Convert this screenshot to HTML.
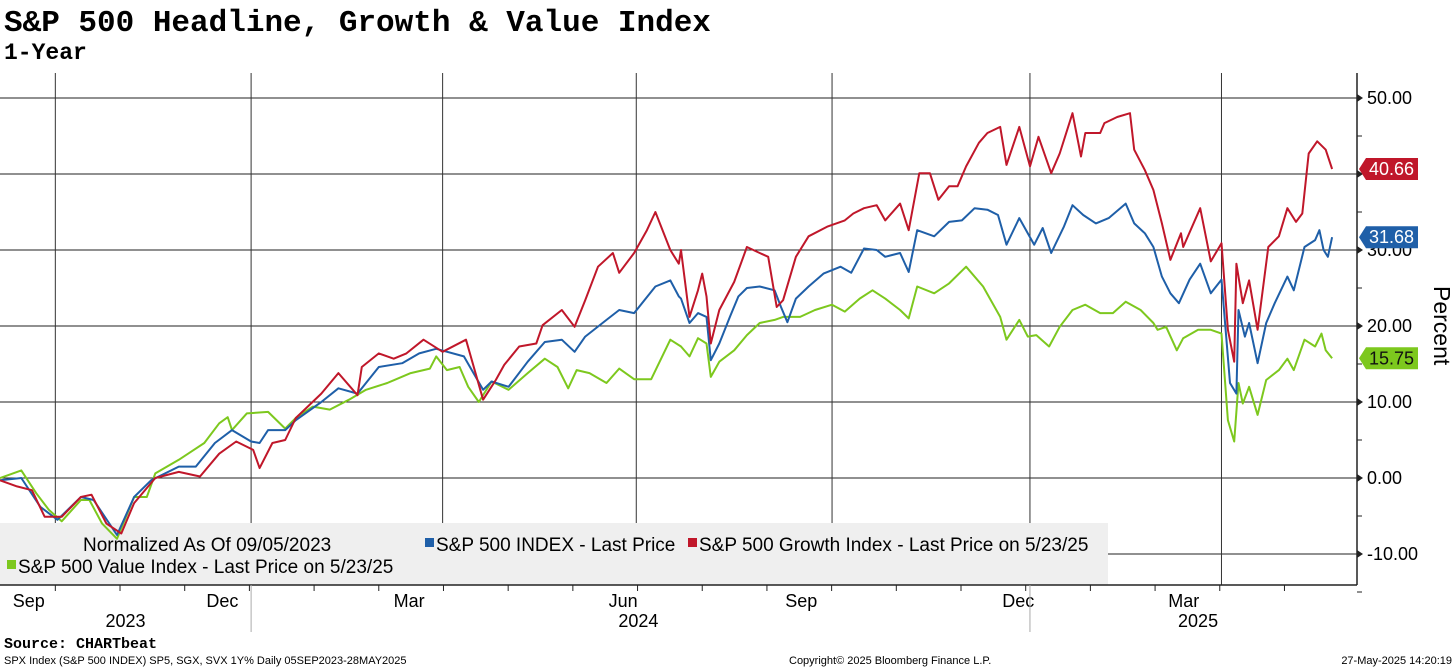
<!DOCTYPE html>
<html><head><meta charset="utf-8"><style>
body{margin:0;width:1456px;height:668px;background:#fff;overflow:hidden;font-family:"Liberation Sans Narrow","Liberation Sans",sans-serif}
svg{position:absolute;left:0;top:0}
</style></head><body>
<svg id="c" width="1456" height="668">
<text x="4" y="31" font-family="Liberation Mono, monospace" font-weight="bold" font-size="31">S&amp;P 500 Headline, Growth &amp; Value Index</text>
<text x="4" y="59" font-family="Liberation Mono, monospace" font-weight="bold" font-size="23">1-Year</text>
<g id="grid"></g>
<rect x="0" y="523" width="1108" height="62" fill="#efefef"/>
<g id="series"></g>
<g id="axes"></g>
<g font-size="19" font-family="Liberation Sans Narrow, Liberation Sans, sans-serif">
<text x="83" y="551">Normalized As Of 09/05/2023</text>
<rect x="425" y="538" width="9" height="9" fill="#1f5fa8"/>
<text x="436" y="551">S&amp;P 500 INDEX - Last Price</text>
<rect x="688" y="538" width="9" height="9" fill="#c0172a"/>
<text x="699" y="551">S&amp;P 500 Growth Index - Last Price on 5/23/25</text>
<rect x="7" y="560" width="9" height="9" fill="#7dc81e"/>
<text x="18" y="573">S&amp;P 500 Value Index - Last Price on 5/23/25</text>
</g>
<text transform="translate(1434,286) rotate(90)" font-size="23">Percent</text>
<text x="4" y="648" font-family="Liberation Mono, monospace" font-weight="bold" font-size="15">Source: CHARTbeat</text>
<text x="4" y="664" font-size="11">SPX Index (S&amp;P 500 INDEX) SP5, SGX, SVX 1Y%  Daily 05SEP2023-28MAY2025</text>
<text x="789" y="664" font-size="11">Copyright© 2025 Bloomberg Finance L.P.</text>
<text x="1452" y="664" font-size="11" text-anchor="end">27-May-2025 14:20:19</text>
</svg>
<script>
const yTicks=[50,40,30,20,10,0,-10];
const monthGridDays=[26,118,208,299,391,484,574];
const monthLabels=["Sep","Dec","Mar","Jun","Sep","Dec","Mar"];
const monthLabelDays=[6,97,185,286,369,471,549];
const yearLabels=["2023","2024","2025"];
const yearLabelDays=[59,300,563];
const yearSepDays=[118,484];
const greenDays=[0,10,17,23,29,38,42,48,55,63,69,73,84,90,96,103,107,109,116,126,134,139,147,155,164,172,182,193,202,205,210,216,220,225,231,239,248,256,262,267,271,277,285,291,298,306,315,320,324,328,332,334,338,345,351,357,364,368,376,383,391,397,404,410,416,423,427,431,439,446,454,462,470,473,479,483,487,493,498,504,510,517,523,529,536,542,544,548,553,556,563,569,574,577,580,582,584,587,591,595,601,605,608,613,618,621,623,626];
const greenValues=[0,1,-2,-4.2,-5.7,-2.9,-2.9,-6,-8,-2.5,-2.5,0.6,2.4,3.5,4.6,7.2,8,6.3,8.5,8.7,6.5,7.9,9.4,9,10.3,11.6,12.5,13.8,14.4,16,14.2,14.6,12,10,12.7,11.6,13.8,15.7,14.6,11.8,14.2,13.8,12.5,14.4,13,13,18.2,17.3,16,18.4,17.7,13.3,15.3,16.8,18.8,20.4,20.8,21.2,21.2,22.1,22.8,21.9,23.6,24.7,23.6,22.1,21,25.2,24.3,25.6,27.8,25.2,21.2,18.2,20.8,18.6,18.8,17.3,19.9,22.1,22.8,21.7,21.7,23.2,22.1,20.4,19.5,19.9,16.8,18.4,19.5,19.5,19,7.6,4.8,12.5,9.8,12,8.3,12.9,14.2,15.7,14.2,18.2,17.3,19,16.8,15.75];
const blueDays=[0,10,19,27,38,44,55,63,71,84,92,101,109,118,122,126,134,139,151,159,168,178,189,197,205,218,227,231,239,248,256,264,270,275,285,291,298,308,315,319,320,324,328,332,334,338,343,347,351,357,364,367,370,374,380,387,395,400,406,412,416,423,427,431,439,446,452,458,464,469,473,479,486,490,494,500,504,509,515,521,529,533,538,542,546,550,554,559,564,569,574,578,581,582,585,587,591,595,599,605,608,613,618,620,622,624,626];
const blueValues=[-0.3,0,-3.8,-5.5,-2.5,-2.9,-7.5,-2.5,-0.3,1.5,1.5,4.6,6.3,4.8,4.6,6.3,6.3,7.6,10,11.8,11.1,14.6,15.1,16.4,17,16,11.6,12.7,12,15.3,17.9,18.2,16.6,18.6,20.8,22.1,21.7,25.2,26,23.9,23.6,20.4,21.7,21.2,15.5,17.7,21.2,23.9,25,25.2,24.7,22.5,20.5,23.6,25.2,26.9,27.8,27,30.2,30,29.1,29.6,27.1,32.6,31.8,33.7,33.9,35.5,35.3,34.6,30.7,34.2,30.7,32.9,29.6,33.1,35.9,34.6,33.5,34.2,36.1,33.5,32.2,30.4,26.5,24.3,23,26.1,28.2,24.3,26.1,12.5,11.1,22.1,18.6,20.4,15.1,20.4,23,26.5,24.7,30.4,31.3,32.6,30,29.1,31.68];
const redDays=[0,8,15,21,29,38,43,50,57,63,73,84,94,103,111,119,122,128,134,139,151,159,168,170,178,185,191,199,208,219,227,233,237,244,252,255,264,270,275,281,288,291,298,304,308,315,319,320,324,328,330,332,334,338,345,351,357,361,365,368,374,380,389,397,401,406,412,416,423,427,432,437,441,446,450,454,460,464,470,473,479,484,488,494,498,504,508,510,517,519,525,531,533,538,542,546,550,555,556,564,569,574,577,580,581,584,587,591,596,601,605,609,612,615,619,623,626];
const redValues=[-0.3,-1.1,-1.6,-5.1,-5.1,-2.5,-2.2,-6,-7.3,-3.3,0,0.8,0.2,3.2,4.8,3.7,1.3,4.6,5,7.9,11.1,13.8,10.9,14.6,16.4,15.7,16.4,18.2,16.6,18.2,10.3,12.9,14.9,17.3,17.7,20.1,22.1,19.9,23.4,27.8,29.6,27,29.6,32.6,35,30,28.2,30,21.2,24.7,26.9,23.9,17.7,22.1,25.8,30.4,29.6,29.1,22.5,23.4,29.1,31.8,33.1,33.9,34.8,35.5,35.9,33.9,36.1,32.6,40.1,40.1,36.6,38.4,38.4,41,44.1,45.4,46.2,41.2,46.2,41,44.9,40.1,42.7,48,42.3,45.4,45.4,46.7,47.5,48,43.2,40.5,37.9,33.5,28.7,32.2,30.4,35.5,28.5,30.9,19.5,15.3,28.2,23,26,19.5,30.4,31.8,35.5,33.7,34.8,42.7,44.3,43.2,40.66];

const NS="http://www.w3.org/2000/svg";
const X=d=>d*2.128;
const Y=v=>478-v*7.6;
function mk(tag,attrs,parent){const e=document.createElementNS(NS,tag);for(const k in attrs)e.setAttribute(k,attrs[k]);parent.appendChild(e);return e;}
const grid=document.getElementById('grid'),axes=document.getElementById('axes'),ser=document.getElementById('series');
let e;
yTicks.forEach(v=>{
  const g=mk('line',{x1:0,x2:1357,y1:Y(v),y2:Y(v),stroke:'#222','stroke-width':1},grid);
  
  
  const t=mk('text',{x:1367,y:Y(v)+6,'font-size':18},axes);t.textContent=v.toFixed(2);
  
  
  const tr=mk('path',{d:`M1357 ${Y(v)-4}L1363 ${Y(v)}L1357 ${Y(v)+4}Z`,fill:'#222'},axes);
  
  
});
[45,35,25,15,5,-5,-15].forEach(v=>{const m=mk('line',{x1:1357,x2:1362,y1:Y(v),y2:Y(v),stroke:'#222'},axes);
  
  });
monthGridDays.forEach(d=>{
  const g=mk('line',{x1:X(d),x2:X(d),y1:73,y2:585,stroke:'#333','stroke-width':1},grid);
  
  
});
e=mk('line',{x1:1357,x2:1357,y1:73,y2:585,stroke:'#222','stroke-width':1.5},axes);


e=mk('line',{x1:0,x2:1357,y1:585,y2:585,stroke:'#222','stroke-width':1.5},axes);


for(let d=26;d<=626;d+=30.4){const m=mk('line',{x1:X(d),x2:X(d),y1:585,y2:591,stroke:'#222'},axes);
  
  }
monthLabels.forEach((l,i)=>{const t=mk('text',{x:X(monthLabelDays[i]),y:607,'font-size':18},axes);t.textContent=l;
  
  });
yearLabels.forEach((l,i)=>{const t=mk('text',{x:X(yearLabelDays[i]),y:627,'font-size':18,'text-anchor':'middle'},axes);t.textContent=l;
  
  });
yearSepDays.forEach(d=>{const s=mk('line',{x1:X(d),x2:X(d),y1:585,y2:632,stroke:'#aaa'},axes);
  
  });
function line(days,vals,color,name){
  const p=mk('polyline',{points:days.map((d,i)=>X(d).toFixed(1)+','+Y(vals[i]).toFixed(1)).join(' '),fill:'none',stroke:color,'stroke-width':2,'stroke-linejoin':'round'},ser);
  
  
}
line(greenDays,greenValues,'#7dc81e','value-index-line');
line(blueDays,blueValues,'#1f5fa8','sp500-index-line');
line(redDays,redValues,'#c0172a','growth-index-line');
function tag(v,bg,fg,name){
  const y=Y(v);
  const p=mk('path',{d:`M1359 ${y}L1366 ${y-11}H1418V${y+11}H1366Z`,fill:bg},axes);
  
  
  const t=mk('text',{x:1369,y:y+6,'font-size':18,fill:fg},axes);t.textContent=v.toFixed(2);
  
  
}
tag(redValues[redValues.length-1],'#c0172a','#fff','growth-last-value-tag');
tag(blueValues[blueValues.length-1],'#1f5fa8','#fff','sp500-last-value-tag');
tag(greenValues[greenValues.length-1],'#7dc81e','#111','value-last-value-tag');
</script>
</body></html>
